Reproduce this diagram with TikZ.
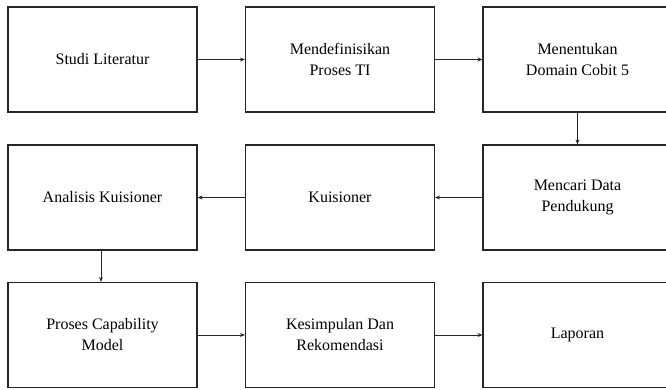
\documentclass[tikz,border=0pt]{standalone}
\usepackage{fontspec}
\setmainfont{Liberation Serif}
\usetikzlibrary{arrows.meta}
\begin{document}
\begin{tikzpicture}[x=1pt,y=-1pt,
  stepbox/.style={draw=black!85,line width=1.1pt,minimum width=189pt,minimum height=105pt,inner sep=0pt,align=center,font=\fontsize{16pt}{21pt}\selectfont},
  conn/.style={draw=black!85,line width=1pt,-{Stealth[length=5pt,width=4pt]}}]
\clip (0,0) rectangle (666,390);
\node[stepbox] (b1) at (102.5,59.5) {Studi Literatur};
\node[stepbox] (b2) at (340,59.5) {Mendefinisikan\\Proses TI};
\node[stepbox] (b3) at (577.5,59.5) {Menentukan\\Domain Cobit 5};
\node[stepbox] (b4) at (102.5,197.5) {Analisis Kuisioner};
\node[stepbox] (b5) at (340,197.5) {Kuisioner};
\node[stepbox] (b6) at (577.5,197.5) {Mencari Data\\Pendukung};
\node[stepbox] (b7) at (102.5,335) {Proses Capability\\Model};
\node[stepbox] (b8) at (340,335) {Kesimpulan Dan\\Rekomendasi};
\node[stepbox] (b9) at (577.5,335) {Laporan};
\draw[conn] (b1) -- (b2);
\draw[conn] (b2) -- (b3);
\draw[conn] (b3) -- (b6);
\draw[conn] (b6) -- (b5);
\draw[conn] (b5) -- (b4);
\draw[conn] (b4.south -| 101,0) -- (b7.north -| 101,0);
\draw[conn] (b7) -- (b8);
\draw[conn] (b8) -- (b9);
\end{tikzpicture}
\end{document}
